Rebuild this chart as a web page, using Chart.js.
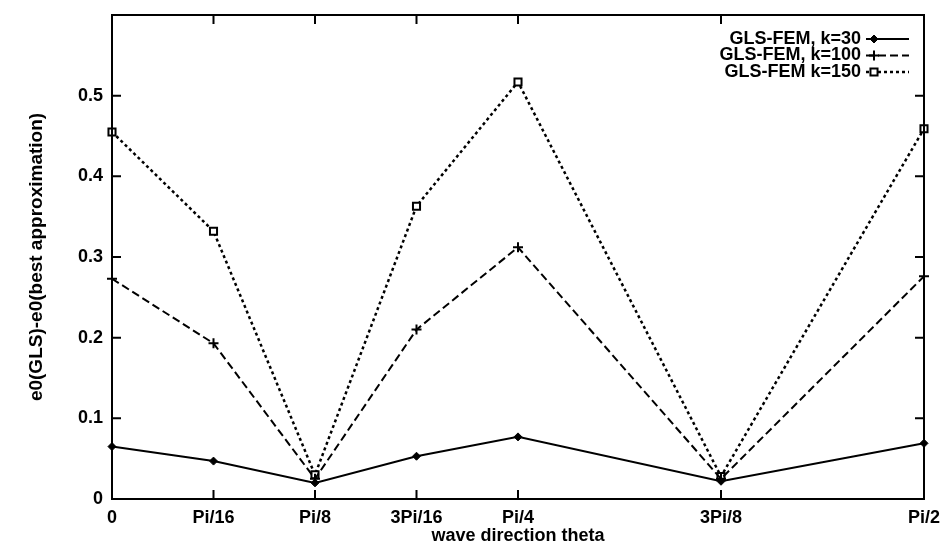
<!DOCTYPE html>
<html>
<head>
<meta charset="utf-8">
<script src="https://cdn.jsdelivr.net/npm/chart.js@4.4.1/dist/chart.umd.min.js"></script>
<style>
  html, body { margin: 0; padding: 0; background: #fff; }
  #wrap { width: 942px; height: 547px; }
</style>
</head>
<body>
<div id="wrap"><canvas id="chart"></canvas></div>
<script>
// theta in units of Pi/16
const thetaUnits = [0, 1, 2, 3, 4, 6, 8];
const thetaLabels = ['0', 'Pi/16', 'Pi/8', '3Pi/16', 'Pi/4', '3Pi/8', 'Pi/2'];
const yTicks = [0, 0.1, 0.2, 0.3, 0.4, 0.5];

const k30 = [0.065, 0.047, 0.020, 0.053, 0.077, 0.022, 0.069];
const k100 = [0.273, 0.193, 0.025, 0.210, 0.312, 0.025, 0.276];
const k150 = [0.455, 0.332, 0.030, 0.363, 0.517, 0.028, 0.459];

const seriesLabels = ['GLS-FEM, k=30', 'GLS-FEM, k=100', 'GLS-FEM k=150'];

const FONT = { family: '"Liberation Sans", Arial, Helvetica, sans-serif', size: 18, weight: 'bold' };
const YTITLE_FONT = { family: FONT.family, size: 19, weight: 'bold' };

const toPoints = vals => thetaUnits.map((x, i) => ({ x, y: vals[i] }));

// gnuplot-like frame with inward ticks + custom legend (text then sample)
const framePlugin = {
  id: 'frame',
  afterDatasetsDraw(chart) {
    const { ctx, chartArea: a, scales } = chart;
    const tl = 9;
    ctx.save();
    ctx.strokeStyle = '#000';
    ctx.lineWidth = 2;
    ctx.strokeRect(a.left, a.top, a.right - a.left, a.bottom - a.top);
    ctx.beginPath();
    thetaUnits.forEach(v => {
      const x = scales.x.getPixelForValue(v);
      ctx.moveTo(x, a.bottom); ctx.lineTo(x, a.bottom - tl);
      ctx.moveTo(x, a.top); ctx.lineTo(x, a.top + tl);
    });
    yTicks.forEach(v => {
      const y = scales.y.getPixelForValue(v);
      ctx.moveTo(a.left, y); ctx.lineTo(a.left + tl, y);
      ctx.moveTo(a.right, y); ctx.lineTo(a.right - tl, y);
    });
    ctx.stroke();

    // legend
    ctx.font = `${FONT.weight} ${FONT.size}px ${FONT.family}`;
    ctx.textAlign = 'right';
    ctx.textBaseline = 'middle';
    chart.data.datasets.forEach((ds, i) => {
      const y = a.top + 24 + i * 16.5;
      const tx = a.right - 63;
      ctx.fillStyle = '#000';
      ctx.fillText(ds.label, tx, y);
      const x0 = a.right - 58, x1 = a.right - 15;
      ctx.beginPath();
      ctx.setLineDash(ds.borderDash || []);
      ctx.lineWidth = ds.borderWidth;
      ctx.moveTo(x0, y); ctx.lineTo(x1, y);
      ctx.stroke();
      ctx.setLineDash([]);
      ctx.fillStyle = ds.pointBackgroundColor;
      ctx.strokeStyle = '#000';
      ctx.lineWidth = ds.pointBorderWidth;
      Chart.helpers.drawPoint(ctx, { pointStyle: ds.pointStyle, radius: ds.pointRadius, rotation: 0, borderWidth: ds.pointBorderWidth }, x0 + 8, y);
    });
    ctx.restore();
  }
};

new Chart(document.getElementById('chart'), {
  type: 'line',
  data: {
    datasets: [{
      label: seriesLabels[0],
      data: toPoints(k30),
      borderColor: '#000',
      borderWidth: 2,
      pointStyle: 'rectRot',
      pointRadius: 4,
      pointBackgroundColor: '#000',
      pointBorderColor: '#000',
      pointBorderWidth: 1,
      clip: false
    }, {
      label: seriesLabels[1],
      data: toPoints(k100),
      borderColor: '#000',
      borderWidth: 2,
      borderDash: [8, 4],
      pointStyle: 'cross',
      pointRadius: 5,
      pointBackgroundColor: '#000',
      pointBorderColor: '#000',
      pointBorderWidth: 2,
      clip: false
    }, {
      label: seriesLabels[2],
      data: toPoints(k150),
      borderColor: '#000',
      borderWidth: 2.5,
      borderDash: [3, 3],
      pointStyle: 'rect',
      pointRadius: 5,
      pointBackgroundColor: '#fff',
      pointBorderColor: '#000',
      pointBorderWidth: 2,
      clip: false
    }]
  },
  options: {
    responsive: true,
    maintainAspectRatio: false,
    animation: false,
    layout: { padding: { left: 25, right: 18, top: 15, bottom: 0 } },
    plugins: { legend: { display: false }, tooltip: { enabled: false } },
    scales: {
      x: {
        type: 'linear',
        min: 0,
        max: 8,
        grid: { display: false, drawTicks: false },
        border: { display: false },
        afterBuildTicks: s => { s.ticks = thetaUnits.map(v => ({ value: v })); },
        afterFit: s => { s.height = 48; s.paddingRight = 0; s.paddingLeft = 0; },
        ticks: {
          color: '#000',
          font: FONT,
          padding: 8,
          maxRotation: 0,
          autoSkip: false,
          callback: v => thetaLabels[thetaUnits.indexOf(v)]
        },
        title: { display: true, text: 'wave direction theta', color: '#000', font: FONT, padding: 0 }
      },
      y: {
        min: 0,
        max: 0.6,
        grid: { display: false, drawTicks: false },
        border: { display: false },
        afterBuildTicks: s => { s.ticks = yTicks.map(v => ({ value: v })); },
        afterFit: s => { s.width = 87; s.paddingTop = 0; s.paddingBottom = 0; },
        ticks: { color: '#000', font: FONT, padding: 9, callback: v => String(v) },
        title: { display: true, text: 'e0(GLS)-e0(best approximation)', color: '#000', font: YTITLE_FONT, padding: 0 }
      }
    }
  },
  plugins: [framePlugin]
});
</script>
</body>
</html>
